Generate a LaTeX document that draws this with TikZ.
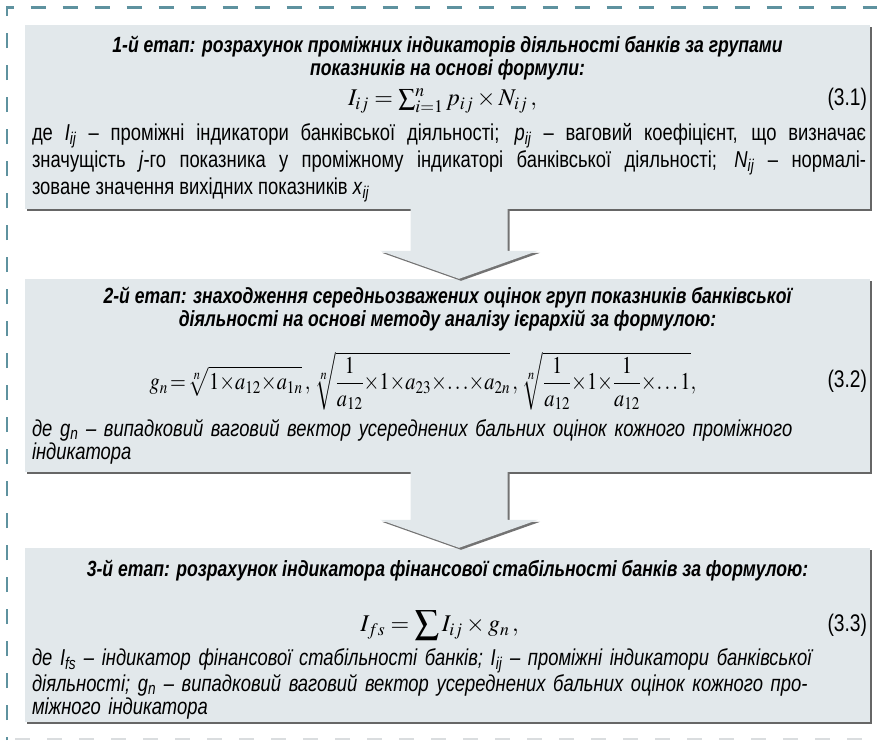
\documentclass[tikz,border=0pt]{standalone}
\usepackage{graphicx}
\usepackage{mathptmx}
\usepackage[no-math]{fontspec}
\setmainfont[FakeStretch=0.8]{Liberation Sans}
\usetikzlibrary{positioning,calc,shadows}

\definecolor{framecol}{HTML}{5E929F}
\definecolor{boxfill}{HTML}{E2E8EB}
\definecolor{lowline}{HTML}{DADDDF}

\newcommand{\vsub}[2]{\textit{#1}\textsubscript{\textit{#2}}}

\begin{document}
\begin{tikzpicture}[x=1pt,y=-1pt,
  stage/.style={rectangle,fill=boxfill,minimum width=845pt,inner sep=0pt,
    drop shadow={shadow xshift=2pt,shadow yshift=-2pt,fill=black!60,opacity=1}},
  stagetitle/.style={font=\fontsize{22}{23}\selectfont\bfseries\itshape,align=center,inner sep=0pt},
  expl/.style={font=\fontsize{23}{27}\selectfont,text width=834pt,inner sep=0pt},
  eqn/.style={font=\fontsize{24}{28}\selectfont,inner sep=0pt},
  eqnum/.style={font=\fontsize{24}{26}\selectfont,inner sep=0pt},
  flow/.style={fill=boxfill,drop shadow={shadow xshift=2pt,shadow yshift=-2pt,fill=black!55,opacity=1}},
  frameline/.style={draw=framecol,line width=2.5pt,dash pattern=on 15pt off 17pt},
  lowdash/.style={draw=lowline,line width=2pt,dash pattern=on 15pt off 17pt}]
\useasboundingbox (0,0) rectangle (877,740);

% frame
\draw[frameline,dash phase=12pt] (7,740) -- (7,7.5) -- (877,7.5);
\draw[lowdash] (15,738.5) -- (877,738.5);

% stages
\node[stage,minimum height=184pt] (s1) at (447.5,117) {};
\node[stage,minimum height=193pt] (s2) at (447.5,375.5) {};
\node[stage,minimum height=174pt] (s3) at (447.5,635) {};

% arrows between stages
\coordinate (a1top) at ([xshift=11.5pt,yshift=2pt]s1.south);
\coordinate (a1tip) at ([xshift=11.5pt]s2.north);
\coordinate (a2top) at ([xshift=11.5pt,yshift=2pt]s2.south);
\coordinate (a2tip) at ([xshift=11.5pt]s3.north);
\foreach \a in {a1,a2} {
  \path[flow] ($(\a top)+(-48.5,0)$) -- ($(\a top)+(48.5,0)$)
    -- ($(\a tip)+(48.5,-28)$) -- ($(\a tip)+(79,-28)$) -- (\a tip)
    -- ($(\a tip)+(-79,-28)$) -- ($(\a tip)+(-48.5,-28)$) -- cycle;
}

% stage 1
\node[stagetitle,anchor=north] (t1) at ([yshift=-11pt]s1.north)
  {1-й етап: розрахунок проміжних індикаторів діяльності банків за групами\\показників на основі формули:};
\node[eqn] (f1) at ($(s1.north)+(-5,76)$)
  {$I_{ij} = \textstyle\sum_{i=1}^{n} p_{ij}\times N_{ij}\,,$};
\node[eqnum,anchor=base east] (n1) at ([xshift=-3pt]f1.base -| s1.east) {(3.1)};
\node[expl,anchor=south west,align=justify] (d1) at ([xshift=7pt,yshift=7pt]s1.south west)
  {де \vsub{I}{ij} – проміжні індикатори банківської діяльності; \vsub{p}{ij} – ваговий коефіцієнт, що визначає\linebreak
   значущість \textit{j}-го показника у проміжному індикаторі банківської діяльності; \vsub{N}{ij} – нормалі-\linebreak
   зоване значення вихідних показників \vsub{x}{ij}};

% stage 2
\node[stagetitle,anchor=north] (t2) at ([yshift=-8pt]s2.north)
  {2-й етап: знаходження середньозважених оцінок груп показників банківської\\діяльності на основі методу аналізу ієрархій за формулою:};
\node[eqn] (f2) at (423,381)
  {\scalebox{0.85}[1]{$\medmuskip=0mu\thickmuskip=2mu\displaystyle g_n = \sqrt[n]{1\times a_{12}\times a_{1n}}\,,\,\sqrt[n]{\frac{1}{a_{12}}\times 1\times a_{23}\times\ldots\times a_{2n}}\,,\,\sqrt[n]{\frac{1}{a_{12}}\times 1\times\frac{1}{a_{12}}\times\ldots 1},$}};
\node[eqnum,anchor=east] (n2) at ([xshift=-3pt]f2.center -| s2.east) {(3.2)};
\node[expl,anchor=south west,align=left,font=\fontsize{23}{23}\selectfont\itshape] (d2) at ([xshift=7pt,yshift=8pt]s2.south west)
  {де \vsub{g}{n} – випадковий ваговий вектор усереднених бальних оцінок кожного проміжного\\
   індикатора};

% stage 3
\node[stagetitle,anchor=north] (t3) at ([yshift=-12pt]s3.north)
  {3-й етап: розрахунок індикатора фінансової стабільності банків за формулою:};
\node[eqn] (f3) at ($(s3.north)+(-8,78)$)
  {$I_{fs} = \displaystyle\sum I_{ij}\times g_n\,,$};
\node[eqnum,anchor=base east] (n3) at ([xshift=-3pt]f3.base -| s3.east) {(3.3)};
\node[expl,anchor=south west,align=left,font=\fontsize{23}{23}\selectfont\itshape] (d3) at ([xshift=7pt,yshift=3pt]s3.south west)
  {де \vsub{I}{fs} – індикатор фінансової стабільності банків; \vsub{I}{ij} – проміжні індикатори банківської\\
   діяльності; \vsub{g}{n} – випадковий ваговий вектор усереднених бальних оцінок кожного про-\\
   міжного індикатора};
\end{tikzpicture}
\end{document}
